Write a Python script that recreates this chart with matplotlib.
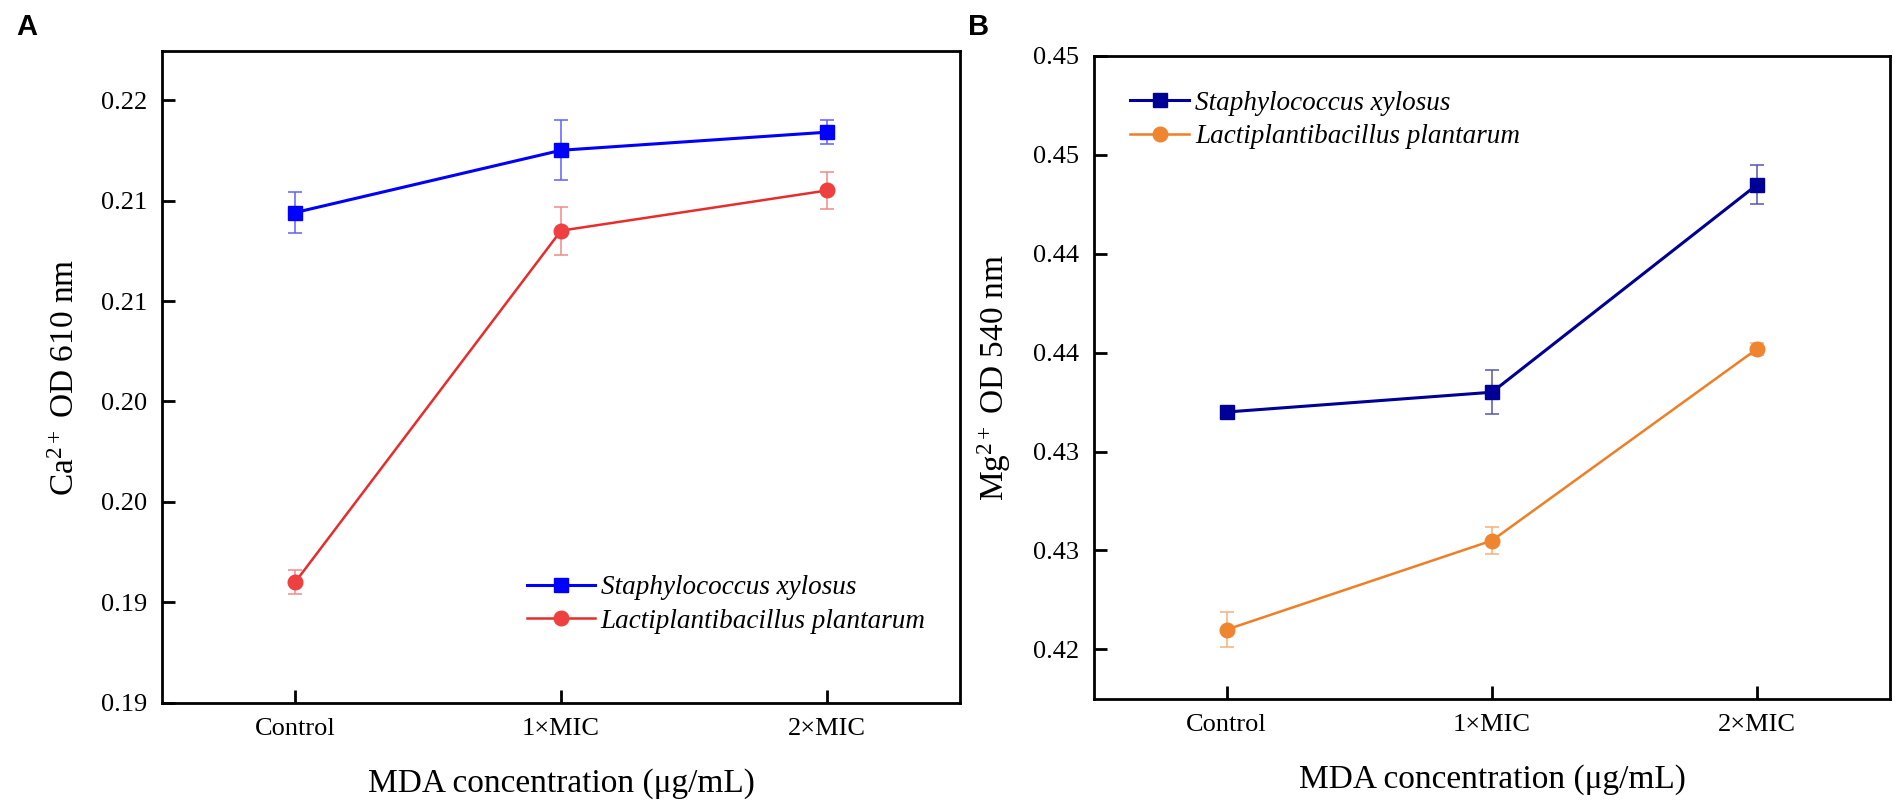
import matplotlib
matplotlib.use("Agg")
import matplotlib.pyplot as plt
from matplotlib.ticker import FixedLocator, FixedFormatter
from matplotlib.lines import Line2D

plt.rcParams['font.family'] = ['Liberation Serif', 'DejaVu Serif']
plt.rcParams['mathtext.fontset'] = 'custom'
plt.rcParams['mathtext.rm'] = 'Liberation Serif'
plt.rcParams['mathtext.it'] = 'Liberation Serif:italic'

# ---- data ----
categories = ['Control', '1×MIC', '2×MIC']
series_names = ['Staphylococcus xylosus', 'Lactiplantibacillus plantarum']

ca_staph = [0.2144, 0.2175, 0.2184]
ca_staph_err = [0.0010, 0.0015, 0.0006]
ca_lacto = [0.1960, 0.2135, 0.2155]
ca_lacto_err = [0.0006, 0.0012, 0.0009]

mg_staph = [0.4320, 0.4330, 0.4435]
mg_staph_err = [0.0002, 0.0011, 0.0010]
mg_lacto = [0.4210, 0.4255, 0.4352]
mg_lacto_err = [0.0009, 0.0007, 0.0003]

ca_ticks = [0.190, 0.195, 0.200, 0.205, 0.210, 0.215, 0.220]
ca_ticklabels = ['0.19', '0.19', '0.20', '0.20', '0.21', '0.21', '0.22']
mg_ticks = [0.420, 0.425, 0.430, 0.435, 0.440, 0.445, 0.450]
mg_ticklabels = ['0.42', '0.43', '0.43', '0.44', '0.44', '0.45', '0.45']

fig = plt.figure(figsize=(19.04, 8.08), dpi=100)
axA = fig.add_axes([0.0851, 0.1300, 0.5042 - 0.0851, 0.9369 - 0.1300])
axB = fig.add_axes([0.5746, 0.1349, 0.9926 - 0.5746, 0.9307 - 0.1349])

x = list(range(len(categories)))


def style(ax, ticks, labels, ylim, ylabel):
    ax.set_xlim(-0.5, 2.5)
    ax.set_ylim(*ylim)
    ax.set_xticks(x)
    ax.set_xticklabels(categories)
    ax.yaxis.set_major_locator(FixedLocator(ticks))
    ax.yaxis.set_major_formatter(FixedFormatter(labels))
    for s in ax.spines.values():
        s.set_linewidth(2.0)
    ax.tick_params(direction='in', length=9.5, width=2.0, labelsize=19,
                   pad=11, top=False, right=False)
    ax.set_xlabel('MDA concentration (μg/mL)', fontsize=24, labelpad=20)
    ax.set_ylabel(ylabel, fontsize=24, labelpad=14)


def series(ax, vals, errs, line_c, lw, marker, ms, mk_c, err_c, label):
    ax.errorbar(x, vals, yerr=errs, color=line_c, lw=lw,
                marker=marker, ms=ms, mfc=mk_c, mec=mk_c,
                ecolor=err_c, elinewidth=1.1, capsize=5, capthick=1.1,
                zorder=3)
    return Line2D([], [], color=line_c, lw=lw, marker=marker, ms=ms,
                  mfc=mk_c, mec=mk_c, label=label)


leg_font = {'family': 'Liberation Serif', 'style': 'italic', 'size': 19.5}

# Panel A
hA1 = series(axA, ca_staph, ca_staph_err, '#0000FF', 2.2, 's', 10,
             '#0000FF', '#5F5FFF', series_names[0])
hA2 = series(axA, ca_lacto, ca_lacto_err, '#E82C2C', 1.8, 'o', 10.5,
             '#EE4040', '#F08A8A', series_names[1])
style(axA, ca_ticks, ca_ticklabels, (0.190, 0.22244), 'Ca$^{2+}$ OD 610 nm')
axA.legend(handles=[hA1, hA2], loc='lower left', bbox_to_anchor=(0.458, 0.106),
           frameon=False, borderpad=0, borderaxespad=0,
           handlelength=2.5, handletextpad=0.2, labelspacing=0.32,
           prop=leg_font)

# Panel B
hB1 = series(axB, mg_staph, mg_staph_err, '#000096', 2.2, 's', 10,
             '#000096', '#5555B0', series_names[0])
hB2 = series(axB, mg_lacto, mg_lacto_err, '#EE7F24', 1.8, 'o', 10.5,
             '#F08530', '#F5B07A', series_names[1])
style(axB, mg_ticks, mg_ticklabels, (0.41749, 0.4500), 'Mg$^{2+}$ OD 540 nm')
axB.legend(handles=[hB1, hB2], loc='upper left', bbox_to_anchor=(0.045, 0.946),
           frameon=False, borderpad=0, borderaxespad=0,
           handlelength=2.2, handletextpad=0.2, labelspacing=0.32,
           prop=leg_font)

# Panel letters
fig.text(16 / 1904, 1 - 35 / 808, 'A', fontsize=21, fontweight='bold',
         family='Liberation Sans', ha='left', va='baseline')
fig.text(968 / 1904, 1 - 35 / 808, 'B', fontsize=21, fontweight='bold',
         family='Liberation Sans', ha='left', va='baseline')

fig.savefig('out.png', dpi=100, facecolor='white')
